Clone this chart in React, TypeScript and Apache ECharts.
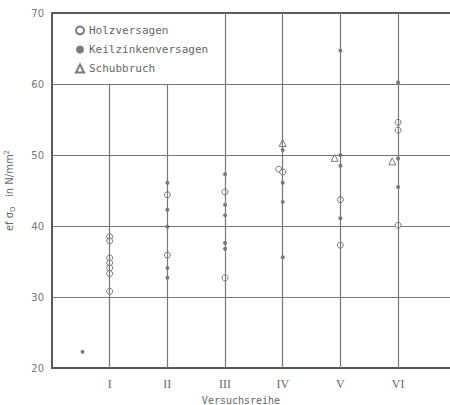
import React, { useEffect, useRef } from "react";
import * as echarts from "echarts";

const categories = ["I", "II", "III", "IV", "V", "VI"];
const yTicks = [20, 30, 40, 50, 60, 70];

// [Versuchsreihe position, ef sigma_D]
const holzversagen: number[][] = [
  [1, 38.5], [1, 37.9], [1, 35.5], [1, 34.8], [1, 34.1], [1, 33.3], [1, 30.8],
  [2, 44.4], [2, 35.9],
  [3, 44.8], [3, 32.7],
  [3.93, 48.0], [4, 47.6],
  [5, 43.7], [5, 37.3],
  [6, 54.6], [6, 53.5], [6, 40.1],
];
const keilzinkenversagen: number[][] = [
  [0.53, 22.3],
  [2, 46.1], [2, 42.3], [2, 39.9], [2, 34.1], [2, 32.7],
  [3, 47.3], [3, 43.0], [3, 41.5], [3, 37.6], [3, 36.8],
  [4, 50.7], [4, 46.1], [4, 43.4], [4, 35.6],
  [5, 64.7], [5, 50.0], [5, 48.5], [5, 41.1],
  [6, 60.2], [6, 49.5], [6, 45.5],
];
const schubbruch: number[][] = [
  [4, 51.7],
  [4.9, 49.6],
  [5.9, 49.1],
];
// vertical guide lines: [x, yFrom, yTo]
const verticals: number[][] = [
  [1, 20, 60], [2, 20, 60], [3, 20, 70], [4, 20, 70], [5, 20, 70], [6, 20, 70],
];

const ink = "#5a5a5a";

export default function App() {
  const ref = useRef<HTMLDivElement>(null);
  useEffect(() => {
    if (!ref.current) return;
    const chart = echarts.init(ref.current, null, { renderer: "svg" });
    chart.setOption({
      animation: false,
      backgroundColor: "#ffffff",
      grid: { left: 52, right: 0, top: 13, bottom: 37, containLabel: false, outerBoundsMode: "none" },
      legend: {
        orient: "vertical",
        left: 70, top: 20,
        itemWidth: 8, itemHeight: 8, itemGap: 8,
        textStyle: { fontFamily: "DejaVu Sans Mono", fontSize: 11, color: "#666" },
        data: ["Holzversagen", "Keilzinkenversagen", "Schubbruch"],
      },
      xAxis: [
        {
          type: "value", min: 0, max: 6.9, interval: 1, position: "bottom",
          axisLine: { show: true, onZero: false, lineStyle: { color: ink, width: 2 } },
          axisTick: { show: false }, splitLine: { show: false },
          axisLabel: {
            margin: 10, fontFamily: "Liberation Serif", fontSize: 12, color: "#666",
            showMaxLabel: false,
            formatter: (v: number) => (v >= 1 && v <= 6 ? categories[v - 1] : ""),
          },
          name: "Versuchsreihe", nameLocation: "middle", nameGap: 21,
          nameTextStyle: { fontFamily: "DejaVu Sans Mono", fontSize: 10, lineHeight: 11, color: "#666", padding: [0, 20, 0, 0] },
        },
        {
          type: "value", min: 0, max: 6.9, position: "top",
          axisLine: { show: true, onZero: false, lineStyle: { color: ink, width: 2 } },
          axisTick: { show: false }, axisLabel: { show: false }, splitLine: { show: false },
        },
      ],
      yAxis: {
        type: "value", min: 20, max: 70, interval: 10,
        axisLine: { show: true, onZero: false, lineStyle: { color: ink, width: 2 } },
        axisTick: { show: false },
        splitLine: { show: true, lineStyle: { color: "#777", width: 1.2 } },
        axisLabel: {
          margin: 8, fontFamily: "DejaVu Sans", fontSize: 10, color: "#777",
          formatter: (v: number) => (yTicks.includes(v) ? String(v) : ""),
        },
        name: "{a|ef σ}{s|D}{a|   in N/mm}{p|2}",
        nameLocation: "middle", nameGap: 36, nameRotate: 90,
        nameTextStyle: {
          color: "#666",
          rich: {
            a: { fontFamily: "DejaVu Sans", fontSize: 10, color: "#666" },
            s: { fontFamily: "DejaVu Sans", fontSize: 7, color: "#666", verticalAlign: "bottom", padding: [6, 0, 0, 0] },
            p: { fontFamily: "DejaVu Sans", fontSize: 7, color: "#666", verticalAlign: "top", padding: [0, 0, 6, 0] },
          },
        },
      },
      series: [
        {
          type: "line", data: [], silent: true,
          markLine: {
            symbol: "none", silent: true, label: { show: false },
            lineStyle: { color: "#777", width: 1.2, type: "solid" },
            data: verticals.map(([x, a, b]) => [{ coord: [x, a] }, { coord: [x, b] }]),
          },
        },
        {
          name: "Holzversagen", type: "scatter", data: holzversagen,
          symbol: "circle", symbolSize: 6,
          itemStyle: { color: "#ffffff", borderColor: ink, borderWidth: 1 },
        },
        {
          name: "Keilzinkenversagen", type: "scatter", data: keilzinkenversagen,
          symbol: "circle", symbolSize: 4,
          itemStyle: { color: ink },
        },
        {
          name: "Schubbruch", type: "scatter", data: schubbruch,
          symbol: "triangle", symbolSize: 7,
          itemStyle: { color: "#ffffff", borderColor: ink, borderWidth: 1 },
        },
      ],
    });
    return () => chart.dispose();
  }, []);
  return <div ref={ref} style={{ width: 450, height: 405, position: "absolute", left: 0, top: 0 }} />;
}
